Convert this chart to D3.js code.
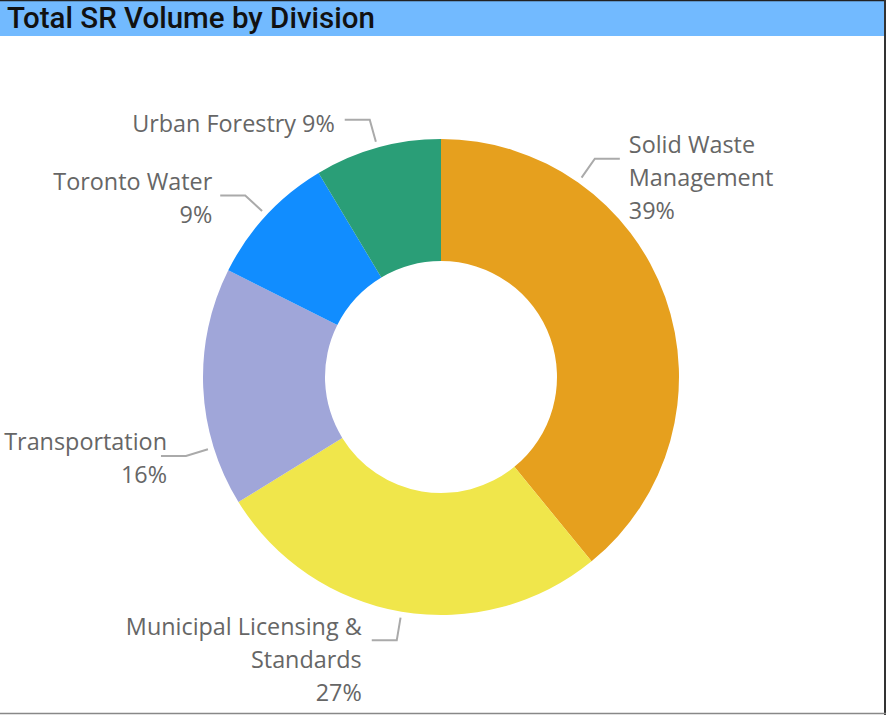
<!DOCTYPE html>
<html>
<head>
<meta charset="utf-8">
<script src="https://cdn.jsdelivr.net/npm/d3@7"></script>
<style>
  html, body { margin: 0; padding: 0; background: #fff; }
  svg { display: block; }
</style>
</head>
<body>
<svg id="chart" width="888" height="715"></svg>
<script>
// ---- data ----
const title = "Total SR Volume by Division";
const categories = ["Solid Waste Management", "Municipal Licensing & Standards", "Transportation", "Toronto Water", "Urban Forestry"];
const values = [39.1, 27.1, 16.2, 9.0, 8.6];
const colors = ["#E6A01E", "#F0E64B", "#A0A6D9", "#118DFF", "#2A9E77"];

// ---- layout (code, not data) ----
const W = 888, H = 715;
const cx = 441, cy = 377, rOuter = 238, rInner = 116;
const labelFont = "'Open Sans', 'Noto Sans', sans-serif";
const lineHeight = 33;
// per-label placement tweaks imitating the original label layout
const labelLayout = {
  "Solid Waste Management": { lines: ["Solid Waste", "Management", "{p}"], shift: -35.2, dy: -6, gap: 9 },
  "Municipal Licensing & Standards": { lines: ["Municipal Licensing &", "Standards", "{p}"], shift: 0, dy: -5, gap: 10 },
  "Transportation": { lines: ["Transportation", "{p}"], shift: -14.7, dy: -6, gap: -6 },
  "Toronto Water": { lines: ["Toronto Water", "{p}"], shift: 0, dy: -5, gap: 8 },
  "Urban Forestry": { lines: ["Urban Forestry {p}"], shift: 0, dy: 12.7, gap: 10 }
};

const svg = d3.select("#chart");

// frame
svg.append("rect").attr("x", 0).attr("y", 0).attr("width", W).attr("height", H).attr("fill", "#fff");
svg.append("rect").attr("x", 0).attr("y", 1).attr("width", 885).attr("height", 35).attr("fill", "#72BAFF");
svg.append("line").attr("x1", 0).attr("x2", 886).attr("y1", 0.5).attr("y2", 0.5).attr("stroke", "#222").attr("stroke-width", 1.5);
svg.append("line").attr("x1", 885).attr("x2", 885).attr("y1", 0).attr("y2", 715).attr("stroke", "#333").attr("stroke-width", 2);
svg.append("line").attr("x1", 0).attr("x2", 886).attr("y1", 713.5).attr("y2", 713.5).attr("stroke", "#888").attr("stroke-width", 1.5);

// title (fit width to original)
const titleText = svg.append("text")
  .attr("x", 7).attr("y", 28)
  .attr("font-family", "Roboto, 'DejaVu Sans', sans-serif")
  .attr("font-weight", 500)
  .attr("font-size", 100)
  .attr("fill", "#111")
  .text(title);
{
  const w = titleText.node().getComputedTextLength();
  titleText.attr("font-size", 100 * 368 / w);
}

// label font size fit
let labelSize = 24;
{
  const probe = svg.append("text").attr("font-family", labelFont).attr("font-size", 100);
  const targets = [["Urban Forestry 9%", 203], ["Transportation", 157], ["Municipal Licensing &", 244]];
  let s = 0;
  targets.forEach(([t, w]) => { probe.text(t); s += 100 * w / probe.node().getComputedTextLength(); });
  labelSize = s / targets.length;
  probe.remove();
}

const total = d3.sum(values);
const data = categories.map((c, i) => ({ name: c, value: values[i], color: colors[i] }));
const pie = d3.pie().sort(null).value(d => d.value);
const arcs = pie(data);
const arc = d3.arc().innerRadius(rInner).outerRadius(rOuter);

const g = svg.append("g").attr("transform", `translate(${cx},${cy})`);
g.selectAll("path.slice")
  .data(arcs)
  .join("path")
  .attr("class", "slice")
  .attr("d", arc)
  .attr("fill", d => d.data.color);

// labels with leader lines
const pt = (a, r) => [r * Math.sin(a), -r * Math.cos(a)];
arcs.forEach(d => {
  const L = labelLayout[d.data.name];
  const mid = (d.startAngle + d.endAngle) / 2 + L.shift * Math.PI / 180;
  const p0 = pt(mid, rOuter + 6);
  const p1 = pt(mid, rOuter + 29);
  const side = Math.sin(mid) >= 0 ? 1 : -1;
  const p2 = [p1[0] + side * 25, p1[1]];
  g.append("polyline")
    .attr("points", [p0, p1, p2].map(p => p.join(",")).join(" "))
    .attr("fill", "none")
    .attr("stroke", "#AAAAAA")
    .attr("stroke-width", 2);
  const pct = Math.round(d.data.value / total * 100) + "%";
  const t = g.append("text")
    .attr("font-family", labelFont)
    .attr("font-size", labelSize)
    .attr("fill", "#666")
    .attr("text-anchor", side > 0 ? "start" : "end");
  L.lines.forEach((ln, i) => {
    t.append("tspan")
      .attr("x", p2[0] + side * L.gap)
      .attr("y", p2[1] + L.dy + i * lineHeight)
      .text(ln.replace("{p}", pct));
  });
});
</script>
</body>
</html>
